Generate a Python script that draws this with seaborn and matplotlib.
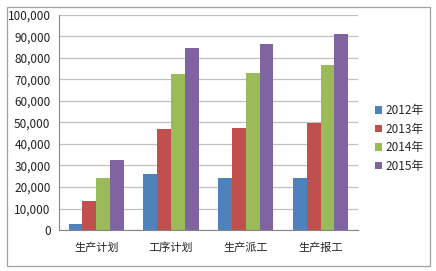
import matplotlib
matplotlib.use("Agg")
import matplotlib.pyplot as plt
from matplotlib.patches import Rectangle
from matplotlib.ticker import FuncFormatter, FixedLocator
import seaborn as sns
import pandas as pd

categories = ["生产计划", "工序计划", "生产派工", "生产报工"]
years = ["2012年", "2013年", "2014年", "2015年"]
values_2012 = [3000, 25900, 24300, 24300]
values_2013 = [13300, 46800, 47600, 49800]
values_2014 = [24300, 72400, 73000, 76400]
values_2015 = [32600, 84300, 86400, 90800]
colors = ["#4F81BD", "#C0504D", "#9BBB59", "#8064A2"]

rows = []
for year, vals in zip(years, [values_2012, values_2013, values_2014, values_2015]):
    for cat, v in zip(categories, vals):
        rows.append({"category": cat, "year": year, "value": v})
df = pd.DataFrame(rows)

sns.set_style("white")
plt.rcParams["font.family"] = ["Noto Sans CJK SC", "DejaVu Sans"]

fig = plt.figure(figsize=(4.36, 2.71), dpi=100)
ax = fig.add_axes([0.135, 0.151, 0.686, 0.795])

sns.barplot(data=df, x="category", y="value", hue="year", order=categories,
            hue_order=years, palette=colors, width=0.74, saturation=1,
            edgecolor="none", ax=ax, legend=False)

ax.set_ylim(0, 100000)
ax.set_xlim(-0.5, 3.5)
ax.set_yticks(range(0, 100001, 10000))
ax.yaxis.set_major_formatter(FuncFormatter(lambda v, p: f"{int(v):,}"))
ax.yaxis.grid(True, color="#C0C0C0", linewidth=0.9)
ax.set_axisbelow(True)

# category labels at centers, tick marks at group boundaries
ax.xaxis.set_major_locator(FixedLocator([-0.5, 0.5, 1.5, 2.5, 3.5]))
ax.set_xticklabels([])
ax.xaxis.set_minor_locator(FixedLocator([0, 1, 2, 3]))
ax.set_xticklabels(categories, minor=True)
ax.tick_params(axis="x", which="major", length=4, color="#868686", width=0.8)
ax.tick_params(axis="x", which="minor", length=0, pad=9, labelsize=8, labelcolor="#222222")
ax.tick_params(axis="y", length=4, color="#868686", width=0.8, labelsize=8.5,
               labelcolor="#222222", pad=2)

for side in ["top", "right"]:
    ax.spines[side].set_visible(False)
for side in ["left", "bottom"]:
    ax.spines[side].set_color("#868686")
    ax.spines[side].set_linewidth(0.8)

ax.set_xlabel("")
ax.set_ylabel("")

handles = [Rectangle((0, 0), 1, 1, facecolor=c, edgecolor="none") for c in colors]
fig.legend(handles, years, loc="upper left", bbox_to_anchor=(0.850, 0.633),
           frameon=False, fontsize=8.5, handlelength=0.6, handleheight=0.6,
           handletextpad=0.3, labelspacing=0.47, borderaxespad=0)

# outer chart border
fig.patches.append(Rectangle((7 / 436, 1 - 266 / 271), 423 / 436, 259 / 271,
                             transform=fig.transFigure, fill=False,
                             edgecolor="#A0A0A0", linewidth=0.9))

fig.savefig("out.png", dpi=100)
